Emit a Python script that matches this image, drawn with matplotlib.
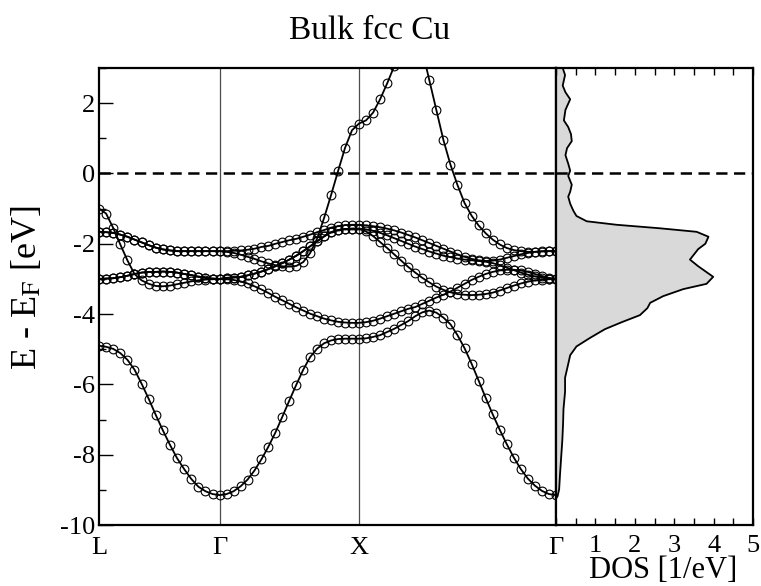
import numpy as np
import matplotlib
matplotlib.use("Agg")
import matplotlib.pyplot as plt
from matplotlib.ticker import MultipleLocator

plt.rcParams['font.family'] = ['Liberation Serif', 'DejaVu Serif']
plt.rcParams['mathtext.fontset'] = 'stix'
plt.rcParams['axes.unicode_minus'] = False

# ---------------- data ----------------
# k-path segment lengths (units of 2*pi/a): L-Gamma, Gamma-X, X-Gamma
seg_lengths = [0.866, 1.0, 1.414]
seg_points = [18, 21, 29]          # points per segment (end points shared)
kpoint_labels = ["L", "Γ", "X", "Γ"]

# band energies (eV, relative to E_F) along L-Γ (18) | Γ-X (20) | X-Γ (28)
band1 = [-4.90, -4.93, -4.99, -5.11, -5.30, -5.58, -5.98, -6.41, -6.87, -7.31, -7.72, -8.10, -8.41, -8.69, -8.91, -9.04, -9.12, -9.15,
         -9.12, -9.04, -8.90, -8.71, -8.45, -8.13, -7.77, -7.37, -6.92, -6.46, -6.01, -5.58, -5.22, -4.98, -4.83, -4.75, -4.71, -4.70, -4.70, -4.70,
         -4.69, -4.65, -4.60, -4.51, -4.42, -4.31, -4.20, -4.06, -3.95, -3.90, -3.96, -4.10, -4.29, -4.60, -4.97, -5.41, -5.89, -6.38, -6.85, -7.29, -7.70, -8.08, -8.41, -8.68, -8.88, -9.03, -9.12, -9.15]
band2 = [-1.00, -1.14, -1.55, -2.02, -2.47, -2.86, -3.04, -3.14, -3.20, -3.21, -3.19, -3.15, -3.11, -3.07, -3.04, -3.02, -3.01, -3.00,
         -3.01, -3.03, -3.07, -3.13, -3.21, -3.30, -3.40, -3.51, -3.61, -3.71, -3.81, -3.90, -3.99, -4.06, -4.13, -4.18, -4.22, -4.24, -4.25, -4.25,
         -4.23, -4.19, -4.13, -4.06, -3.99, -3.92, -3.85, -3.80, -3.71, -3.62, -3.53, -3.45, -3.36, -3.25, -3.14, -3.03, -2.94, -2.86, -2.80, -2.76, -2.74, -2.74, -2.76, -2.80, -2.86, -2.92, -2.97, -3.00]
band3 = [-3.00, -2.99, -2.98, -2.95, -2.91, -2.86, -2.82, -2.80, -2.80, -2.79, -2.80, -2.82, -2.86, -2.89, -2.94, -2.97, -2.99, -3.00,
         -2.97, -2.96, -2.94, -2.90, -2.85, -2.79, -2.72, -2.64, -2.55, -2.45, -2.34, -2.21, -2.07, -1.93, -1.79, -1.67, -1.61, -1.58, -1.57, -1.57,
         -1.59, -1.63, -1.69, -1.76, -1.84, -1.92, -2.00, -2.08, -2.15, -2.22, -2.28, -2.34, -2.38, -2.42, -2.45, -2.47, -2.49, -2.51, -2.55, -2.61, -2.68, -2.75, -2.82, -2.88, -2.93, -2.97, -2.99, -3.00]
band4 = [-3.00, -2.99, -2.98, -2.95, -2.91, -2.86, -2.82, -2.80, -2.80, -2.79, -2.80, -2.82, -2.86, -2.89, -2.94, -2.97, -2.99, -3.00,
         -2.97, -2.96, -2.94, -2.90, -2.85, -2.79, -2.72, -2.64, -2.55, -2.45, -2.34, -2.21, -2.07, -1.93, -1.79, -1.67, -1.61, -1.58, -1.57, -1.57,
         -1.65, -1.78, -1.95, -2.12, -2.30, -2.48, -2.66, -2.82, -2.97, -3.10, -3.22, -3.31, -3.38, -3.43, -3.45, -3.46, -3.45, -3.43, -3.39, -3.33, -3.26, -3.19, -3.13, -3.08, -3.04, -3.02, -3.01, -3.00]
band5 = [-1.66, -1.67, -1.69, -1.74, -1.80, -1.88, -1.96, -2.04, -2.11, -2.16, -2.19, -2.21, -2.21, -2.21, -2.21, -2.21, -2.21, -2.21,
         -2.21, -2.20, -2.19, -2.17, -2.14, -2.09, -2.06, -2.00, -1.95, -1.90, -1.86, -1.80, -1.74, -1.67, -1.61, -1.54, -1.50, -1.47, -1.46, -1.46,
         -1.48, -1.50, -1.53, -1.57, -1.62, -1.68, -1.75, -1.82, -1.90, -1.98, -2.06, -2.14, -2.22, -2.30, -2.37, -2.43, -2.47, -2.49, -2.48, -2.45, -2.40, -2.35, -2.30, -2.26, -2.23, -2.21, -2.21, -2.21]
band6 = [-1.66, -1.67, -1.69, -1.74, -1.80, -1.88, -1.96, -2.04, -2.11, -2.16, -2.19, -2.21, -2.21, -2.21, -2.21, -2.21, -2.21, -2.21,
         -2.23, -2.26, -2.31, -2.37, -2.43, -2.50, -2.56, -2.61, -2.64, -2.65, -2.63, -2.52, -2.26, -1.85, -1.26, -0.61, 0.07, 0.73, 1.23, 1.42,
         1.51, 1.73, 2.11, 2.56, 3.05, 3.45, 3.75, 3.85, 3.50, 2.65, 1.80, 0.95, 0.25, -0.33, -0.84, -1.20, -1.48, -1.70, -1.88, -2.02, -2.12, -2.18, -2.21, -2.23, -2.23, -2.22, -2.21, -2.21]
bands = [band1, band2, band3, band4, band5, band6]

# density of states (states/eV) vs energy (eV)
dos_energy = [3.0, 2.80, 2.50, 2.31, 2.11, 1.81, 1.51, 1.32, 1.12, 0.92, 0.72, 0.52, 0.28, 0.08, -0.07, -0.32,
              -0.52, -0.66, -0.86, -1.06, -1.21, -1.36, -1.46, -1.56, -1.66, -1.80, -2.00, -2.15, -2.45,
              -2.64, -2.94, -3.14, -3.29, -3.49, -3.68, -3.83, -4.03, -4.23, -4.43, -4.68, -4.92, -5.17,
              -5.42, -5.81, -6.21, -6.70, -7.10, -7.60, -8.09, -8.59, -8.98, -9.18, -9.25, -10.0]
dos_value = [0.17, 0.23, 0.17, 0.24, 0.36, 0.24, 0.20, 0.31, 0.38, 0.40, 0.28, 0.24, 0.31, 0.36, 0.31, 0.40,
             0.36, 0.31, 0.36, 0.44, 0.52, 0.78, 1.54, 2.64, 3.57, 3.87, 3.79, 3.61, 3.40,
             3.61, 3.99, 3.82, 3.23, 2.72, 2.39, 2.32, 2.13, 1.67, 1.24, 0.86, 0.52, 0.36,
             0.31, 0.23, 0.23, 0.19, 0.18, 0.16, 0.13, 0.10, 0.08, 0.04, 0.0, 0.0]

# ---------------- k axis ----------------
knodes = np.concatenate([[0.0], np.cumsum(seg_lengths)])
kpath = [np.linspace(knodes[0], knodes[1], seg_points[0])]
for s in range(1, 3):
    kpath.append(np.linspace(knodes[s], knodes[s + 1], seg_points[s])[1:])
kpath = np.concatenate(kpath)

# ---------------- figure ----------------
fig = plt.figure(figsize=(7.61, 5.86), dpi=100)
ax = fig.add_axes([99 / 761, 1 - 525 / 586, 457 / 761, 457 / 586])
axd = fig.add_axes([556 / 761, 1 - 525 / 586, 197 / 761, 457 / 586])

for kn in knodes[1:-1]:
    ax.axvline(kn, color='0.3', lw=0.9, zorder=1)
for b in bands:
    ax.plot(kpath, b, '-', color='k', lw=1.3, marker='o', ms=6.3, mfc='none',
            mec='k', mew=0.8, zorder=3)
ax.axhline(0, color='k', lw=1.8, dashes=(4.5, 2.6), zorder=4)

ax.set_xlim(knodes[0], knodes[-1])
ax.set_ylim(-10, 3)
ax.set_xticks(knodes)
ax.set_xticklabels(kpoint_labels)
ax.tick_params(axis='x', length=0, pad=9, labelsize=19)
ax.yaxis.set_major_locator(MultipleLocator(2))
ax.yaxis.set_minor_locator(MultipleLocator(1))
ax.tick_params(axis='y', which='major', direction='in', length=10, width=1.0,
               labelsize=19, pad=3, left=True, right=False)
ax.tick_params(axis='y', which='minor', direction='in', length=5, width=1.0,
               left=True, right=False)
for sp in ax.spines.values():
    sp.set_linewidth(1.6)
ax.set_ylabel('E - E$_\\mathrm{F}$ [eV]', fontsize=26)
ax.yaxis.set_label_coords(-0.12, 0.52)

# DOS panel
axd.fill_betweenx(dos_energy, 0, dos_value, color='#d9d9d9', lw=0, zorder=1)
axd.plot(dos_value, dos_energy, color='k', lw=1.3, zorder=3)
axd.axhline(0, color='k', lw=1.8, dashes=(4.5, 2.6), zorder=4)
axd.set_xlim(0, 5)
axd.set_ylim(-10, 3)
axd.set_yticks([])
axd.xaxis.set_minor_locator(MultipleLocator(0.5))
axd.set_xticks([1, 2, 3, 4, 5])
axd.tick_params(axis='x', which='major', direction='in', length=5, width=1.0,
                top=True, bottom=True, labelsize=19, pad=7)
axd.tick_params(axis='x', which='minor', direction='in', length=5, width=1.0,
                top=True, bottom=True)
for sp in axd.spines.values():
    sp.set_linewidth(1.6)
axd.set_xlabel('DOS [1/eV]', fontsize=22, va='top')
axd.xaxis.set_label_coords(0.545, (525 - 556) / 457)

fig.text(370 / 761, 1 - 31 / 586, 'Bulk fcc Cu', ha='center', va='center', fontsize=24)

fig.savefig('out.png', dpi=100)
